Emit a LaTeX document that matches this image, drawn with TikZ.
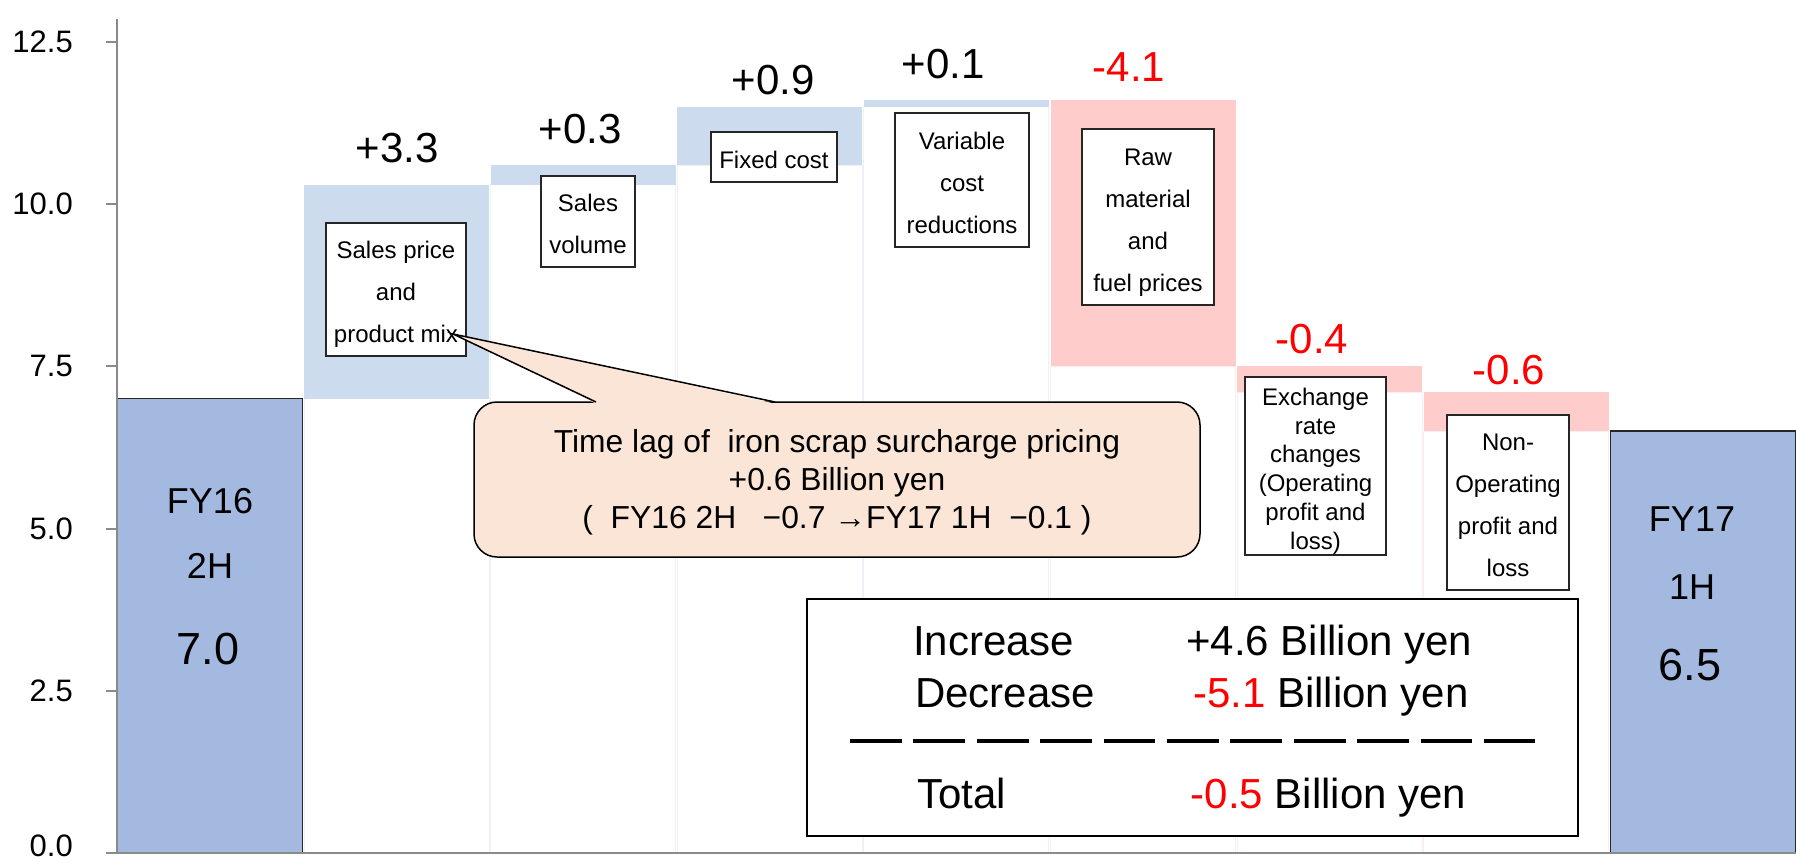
\documentclass[tikz,border=0pt]{standalone}
\usepackage{fontspec}
\setmainfont{Liberation Sans}
\definecolor{fyblue}{HTML}{A3B9E0}
\definecolor{upblue}{HTML}{CDDBEF}
\definecolor{downpink}{HTML}{FFCCCC}
\definecolor{calloutfill}{HTML}{FBE5D6}
\definecolor{axisgrey}{HTML}{8A8A8A}
\definecolor{baseblue}{HTML}{EEF1F8}
\definecolor{basepink}{HTML}{FCEEEE}
% struts that place the lines of text inside their boxes
\newcommand\tstr{\rule[-5.5pt]{0pt}{33.7pt}}
\newcommand\lstr{\rule[-5.5pt]{0pt}{22.7pt}}
\newcommand\ctstr{\rule[-7pt]{0pt}{35.8pt}}
\newcommand\cstr{\rule[-7pt]{0pt}{29.8pt}}
\tikzset{
  lbl/.style={draw=black!85, line width=1.5pt, fill=white, inner sep=0pt,
    align=center, font=\fontsize{24}{42}\selectfont},
  lbltight/.style={lbl, font=\fontsize{24}{28.8}\selectfont},
  val/.style={anchor=base, inner sep=0pt, font=\fontsize{42}{50}\selectfont},
  neg/.style={val, text=red},
  fyname/.style={anchor=base, inner sep=0pt, font=\fontsize{36}{43}\selectfont},
  fyval/.style={anchor=base, inner sep=0pt, font=\fontsize{45}{54}\selectfont},
  ticklbl/.style={anchor=east, inner sep=0pt, font=\fontsize{31}{37}\selectfont},
  sumtxt/.style={anchor=base west, inner sep=0pt, font=\fontsize{42}{50}\selectfont},
  totalbar/.style={fill=fyblue, draw=black!85, line width=1.5pt},
  upbar/.style={fill=upblue},
  downbar/.style={fill=downpink},
  baseline/.style={draw=#1, line width=1pt},
}
\begin{document}
\begin{tikzpicture}[x=1pt, y=-1pt]
\useasboundingbox (0,0) rectangle (1796,864);

% faint outlines of the hidden base columns
\draw[baseline=baseblue] (304.1,398.7) rectangle (489.1,853);
\draw[baseline=baseblue] (490.7,184.5) rectangle (675.7,853);
\draw[baseline=baseblue] (677.3,165.1) rectangle (862.3,853);
\draw[baseline=baseblue] (863.9,106.7) rectangle (1048.9,853);
\draw[baseline=basepink] (1050.5,366.3) rectangle (1235.5,853);
\draw[baseline=basepink] (1237.1,392.2) rectangle (1422.1,853);
\draw[baseline=basepink] (1423.7,431.2) rectangle (1608.7,853);

% start and end totals
\draw[totalbar] (117.5,853) rectangle (302.5,398.7);
\draw[totalbar] (1610.3,853) rectangle (1795.3,431.2);

% increases
\fill[upbar] (304.1,398.7) rectangle (489.1,184.5);
\fill[upbar] (490.7,184.5) rectangle (675.7,165.1);
\fill[upbar] (677.3,165.1) rectangle (862.3,106.7);
\fill[upbar] (863.9,106.7) rectangle (1048.9,100.2);
% decreases
\fill[downbar] (1050.5,100.2) rectangle (1235.5,366.3);
\fill[downbar] (1237.1,366.3) rectangle (1422.1,392.2);
\fill[downbar] (1423.7,392.2) rectangle (1608.7,431.2);

% axes
\draw[axisgrey, line width=2pt] (117,19) -- (117,853) -- (1796,853);
\foreach \v/\y in {2.5/690.8, 5.0/528.5, 7.5/366.3, 10.0/204, 12.5/41.8}{
  \draw[axisgrey, line width=2pt] (106,\y) -- (117,\y);
  \node[ticklbl] (tick\v) at (73,\y) {\v};
}
\draw[axisgrey, line width=2pt] (106,853) -- (117,853);
\node[ticklbl] (tick0.0) at (73,846) {0.0};

% total labels
\node[fyname] (fy16a) at (210,513) {FY16};
\node[fyname] (fy16b) at (210,578) {2H};
\node[fyval]  (fy16v) at (208,664) {7.0};
\node[fyname] (fy17a) at (1692,531) {FY17};
\node[fyname] (fy17b) at (1692,599) {1H};
\node[fyval]  (fy17v) at (1690,680) {6.5};

% step values
\node[val] (vprice)  at (397,163)  {+3.3};
\node[val] (vvolume) at (580,143)  {+0.3};
\node[val] (vfixed)  at (773,95)   {+0.9};
\node[val] (vvar)    at (943,79)   {+0.1};
\node[neg] (vraw)    at (1129,82)  {-4.1};
\node[neg] (vfx)     at (1312,353) {-0.4};
\node[neg] (vnonop)  at (1509,384) {-0.6};

% step descriptions
\node[lbl, minimum width=140pt, minimum height=133pt] (lprice) at (396,289.5)
  {\tstr Sales price\\\lstr and\\\lstr product mix};
\node[lbl, minimum width=94pt, minimum height=91pt] (lvolume) at (588,221.5)
  {\tstr Sales\\\lstr volume};
\node[lbl, minimum width=126pt, minimum height=50pt] (lfixed) at (774,157)
  {\tstr Fixed cost};
\node[lbl, minimum width=134pt, minimum height=134pt] (lvar) at (962,180)
  {\tstr Variable\\\lstr cost\\\lstr reductions};
\node[lbl, minimum width=132pt, minimum height=176pt] (lraw) at (1148,217)
  {\tstr Raw\\\lstr material\\\lstr and\\\lstr fuel prices};
\node[lbltight, minimum width=141pt, minimum height=174pt] (lfx) at (1315.5,466)
  {\tstr Exchange\\\lstr rate\\\lstr changes\\\lstr (Operating\\\lstr profit and\\\lstr loss)};
\node[lbl, minimum width=122pt, minimum height=175pt] (lnonop) at (1508,502.5)
  {\tstr Non-\\\lstr Operating\\\lstr profit and\\\lstr loss};

% callout about the surcharge time lag
\node[draw=black, line width=1.5pt, fill=calloutfill, rounded corners=23pt,
  minimum width=726pt, minimum height=155pt, inner sep=0pt, align=center,
  font=\fontsize{31.8}{38.3}\selectfont] (callout) at (837,479.5)
  {\ctstr Time lag of\ \ iron scrap surcharge pricing\\
   \cstr +0.6 Billion yen\\
   \cstr (\ \ FY16 2H\ \ \ −0.7 →FY17 1H\ \ −0.1 )};
\coordinate (tip) at (453,334);
\coordinate (pl) at (596,402);
\coordinate (pr) at (775,402);
\fill[calloutfill] ([yshift=-1.6pt]pl) -- (tip) -- ([yshift=-1.6pt]pr) -- cycle;
\draw[black, line width=1.5pt, line join=miter] (pl) -- (tip) -- (pr);

% summary of increases and decreases
\node[draw=black, line width=2pt, fill=white, minimum width=771pt,
  minimum height=237pt, inner sep=0pt] (summary) at (1192.5,717.5) {};
\node[sumtxt] (sinc)  at (913,655)    {Increase};
\node[sumtxt] (sincv) at (1186,655)   {+4.6 Billion yen};
\node[sumtxt] (sdec)  at (915,707)    {Decrease};
\node[sumtxt] (sdecv) at (1193,707)   {\textcolor{red}{-5.1} Billion yen};
\node[sumtxt] (stot)  at (917,808)    {Total};
\node[sumtxt] (stotv) at (1190.5,808) {\textcolor{red}{-0.5} Billion yen};
\coordinate (rulel) at (850,741);
\coordinate (ruler) at (1535,741);
\draw[line width=4.5pt, dash pattern=on 51.7pt off 11.7pt] (rulel) -- (ruler);
\end{tikzpicture}
\end{document}
